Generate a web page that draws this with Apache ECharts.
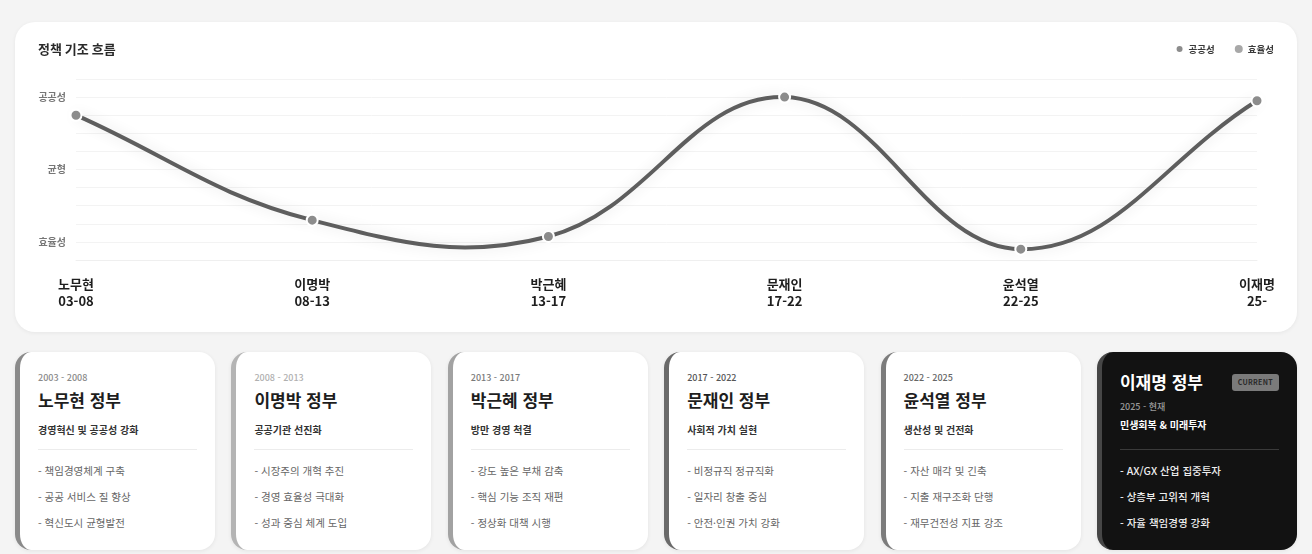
<!DOCTYPE html>
<html lang="ko">
<head>
<meta charset="utf-8">
<script src="https://cdn.jsdelivr.net/npm/echarts/dist/echarts.min.js"></script>
<style>
  html, body { margin:0; padding:0; }
  body { width:1312px; height:554px; background:#f4f4f4; position:relative; overflow:hidden;
         font-family:"Noto Sans CJK KR","Noto Sans",sans-serif; }
  #chartCard { position:absolute; left:15px; top:22px; width:1282px; height:310px; background:#fff;
               border-radius:20px; box-shadow:0 1px 4px rgba(0,0,0,0.06); }
  #chart { position:absolute; left:15px; top:22px; width:1282px; height:310px; }
  #cards { position:absolute; left:15px; top:352px; width:1282px; height:198px; display:flex; gap:16.4px; }
  .card { box-sizing:border-box; width:200px; height:198px; background:#fff; border-radius:16px;
          border-left:5px solid #888; padding:20px 18px 0 18px; box-shadow:0 1px 4px rgba(0,0,0,0.07); }
  .yr { font-size:9px; line-height:11px; height:11px; color:#888; font-weight:500; }
  .nm { margin-top:6px; font-size:17px; line-height:22px; height:22px; font-weight:700; color:#1e1e1e; }
  .sub { margin-top:12px; font-size:10px; line-height:14px; height:14px; font-weight:700; color:#333; }
  .div { margin-top:12px; border-top:1px solid #ececec; }
  ul { list-style:none; margin:8px 0 0 0; padding:0; }
  li { font-size:10.5px; line-height:26px; height:26px; color:#666; }
  .card.cur { background:#121212; border-left-color:#464646; padding-top:19px; }
  .cur .nm { margin-top:0; color:#fff; display:flex; justify-content:space-between; align-items:center; }
  .badge { font-size:7px; line-height:17px; height:17px; padding:0 6px; background:#7a7a7a; color:#2a2a2a;
           border-radius:3px; font-weight:700; letter-spacing:0.3px; }
  .cur .yr { margin-top:8px; color:#9a9a9a; }
  .cur .sub { margin-top:6px; color:#fff; }
  .cur .div { margin-top:17px; border-top-color:#3a3a3a; }
  .cur li { color:#eee; font-weight:500; }
</style>
</head>
<body>
<div id="chartCard"></div>
<div id="chart"></div>
<div id="cards"></div>
<script>
// ---- data ----
const govNames = ['노무현', '이명박', '박근혜', '문재인', '윤석열', '이재명'];
const govPeriods = ['03-08', '08-13', '13-17', '17-22', '22-25', '25-'];
const stanceValues = [80, 22, 13, 90, 6, 88];
const yTickValues = [10, 50, 90];
const yTickLabels = ['효율성', '균형', '공공성'];
const legendNames = ['공공성', '효율성'];
const chartTitle = '정책 기조 흐름';

const cardYears = ['2003 - 2008', '2008 - 2013', '2013 - 2017', '2017 - 2022', '2022 - 2025', '2025 - 현재'];
const cardTitles = ['노무현 정부', '이명박 정부', '박근혜 정부', '문재인 정부', '윤석열 정부', '이재명 정부'];
const cardSubtitles = ['경영혁신 및 공공성 강화', '공공기관 선진화', '방만 경영 척결', '사회적 가치 실현', '생산성 및 건전화', '민생회복 & 미래투자'];
const cardBullets = [
  ['책임경영체계 구축', '공공 서비스 질 향상', '혁신도시 균형발전'],
  ['시장주의 개혁 추진', '경영 효율성 극대화', '성과 중심 체계 도입'],
  ['강도 높은 부채 감축', '핵심 기능 조직 재편', '정상화 대책 시행'],
  ['비정규직 정규직화', '일자리 창출 중심', '안전·인권 가치 강화'],
  ['자산 매각 및 긴축', '지출 재구조화 단행', '재무건전성 지표 강조'],
  ['AX/GX 산업 집중투자', '상층부 고위직 개혁', '자율 책임경영 강화']
];
const currentBadge = 'CURRENT';

// ---- styles (not data) ----
const cardBorderColors = ['#8a8a8a', '#b4b4b4', '#a2a2a2', '#6a6a6a', '#7c7c7c', '#464646'];
const cardYearColors = ['#8a8a8a', '#b0b0b0', '#7a7a7a', '#555', '#666', '#9a9a9a'];
const TENSION = 0.4;

// ---- cards ----
const cardsEl = document.getElementById('cards');
cardTitles.forEach((t, i) => {
  const isCur = i === cardTitles.length - 1;
  const c = document.createElement('div');
  c.className = 'card' + (isCur ? ' cur' : '');
  c.style.borderLeftColor = cardBorderColors[i];
  const bullets = cardBullets[i].map(b => '<li>- ' + b + '</li>').join('');
  if (isCur) {
    c.innerHTML = '<div class="nm"><span>' + t + '</span><span class="badge">' + currentBadge + '</span></div>' +
      '<div class="yr">' + cardYears[i] + '</div>' +
      '<div class="sub">' + cardSubtitles[i] + '</div><div class="div"></div><ul>' + bullets + '</ul>';
  } else {
    c.innerHTML = '<div class="yr" style="color:' + cardYearColors[i] + '">' + cardYears[i] + '</div>' +
      '<div class="nm">' + t + '</div>' +
      '<div class="sub">' + cardSubtitles[i] + '</div><div class="div"></div><ul>' + bullets + '</ul>';
  }
  cardsEl.appendChild(c);
});

// ---- chart ----
const chart = echarts.init(document.getElementById('chart'), null, { renderer: 'canvas' });
const categories = govNames.map((n, i) => n + '\n' + govPeriods[i]);

// cardinal-spline curve through the data points, positioned by the axes
function renderCurve(params, api) {
  if (params.dataIndex !== 0) return null;
  const pts = stanceValues.map((v, i) => api.coord([i, v]));
  const yTop = api.coord([0, 100])[1], yBot = api.coord([0, 0])[1];
  const clampY = y => Math.min(yBot, Math.max(yTop, y));
  const cps = pts.map((p, i) => {
    const prev = pts[i - 1] || p, next = pts[i + 1] || p;
    const d01 = Math.hypot(p[0] - prev[0], p[1] - prev[1]);
    const d12 = Math.hypot(next[0] - p[0], next[1] - p[1]);
    let s01 = d01 / (d01 + d12), s12 = d12 / (d01 + d12);
    if (isNaN(s01)) s01 = 0; if (isNaN(s12)) s12 = 0;
    const fa = TENSION * s01, fb = TENSION * s12;
    return {
      prev: [p[0] - fa * (next[0] - prev[0]), clampY(p[1] - fa * (next[1] - prev[1]))],
      next: [p[0] + fb * (next[0] - prev[0]), clampY(p[1] + fb * (next[1] - prev[1]))]
    };
  });
  const children = [];
  for (let i = 0; i < pts.length - 1; i++) {
    children.push({
      type: 'bezierCurve',
      shape: {
        x1: pts[i][0], y1: pts[i][1], x2: pts[i + 1][0], y2: pts[i + 1][1],
        cpx1: cps[i].next[0], cpy1: cps[i].next[1], cpx2: cps[i + 1].prev[0], cpy2: cps[i + 1].prev[1]
      },
      style: { stroke: '#5e5e5e', lineWidth: 4, fill: null, lineCap: 'round',
               shadowColor: 'rgba(0,0,0,0.12)', shadowBlur: 14 }
    });
  }
  return { type: 'group', children: children };
}

chart.setOption({
  animation: false,
  textStyle: { fontFamily: '"Noto Sans CJK KR","Noto Sans",sans-serif' },
  title: {
    text: chartTitle, left: 18, top: 16,
    textStyle: { fontSize: 13, fontWeight: 700, color: '#2a2a2a' }
  },
  legend: {
    data: legendNames, right: 18, top: 17, icon: 'circle', itemWidth: 8, itemHeight: 8, itemGap: 20,
    textStyle: { fontSize: 9.5, fontWeight: 700, color: '#3a3a3a' }
  },
  grid: { left: 61, right: 40, top: 57, bottom: 72 },
  xAxis: {
    type: 'category', data: categories, boundaryGap: false,
    axisLine: { show: true, lineStyle: { color: '#efefef' } },
    axisTick: { show: false },
    splitLine: { show: false },
    axisLabel: {
      margin: 16, interval: 0, fontSize: 13, fontWeight: 700, color: '#1e1e1e', lineHeight: 17
    }
  },
  yAxis: {
    type: 'value', min: 0, max: 100, interval: 10,
    axisLine: { show: false }, axisTick: { show: false },
    splitLine: { lineStyle: { color: '#f3f3f3' } },
    axisLabel: {
      margin: 10, fontSize: 10, fontWeight: 600, color: '#777',
      formatter: v => { const k = yTickValues.indexOf(v); return k >= 0 ? yTickLabels[k] : ''; }
    }
  },
  series: [
    {
      type: 'custom', name: 'curve', data: stanceValues.map((v, i) => [i, v]),
      encode: { x: 0, y: 1 }, renderItem: renderCurve, z: 2, silent: true
    },
    {
      name: legendNames[0], type: 'line', data: stanceValues,
      symbol: 'circle', symbolSize: 11, showSymbol: true,
      itemStyle: { color: '#8c8c8c', borderColor: '#fff', borderWidth: 2 },
      lineStyle: { width: 0, opacity: 0 },
      z: 3
    },
    {
      name: legendNames[1], type: 'line', data: [],
      itemStyle: { color: '#a8a8a8' }
    }
  ]
});
</script>
</body>
</html>
